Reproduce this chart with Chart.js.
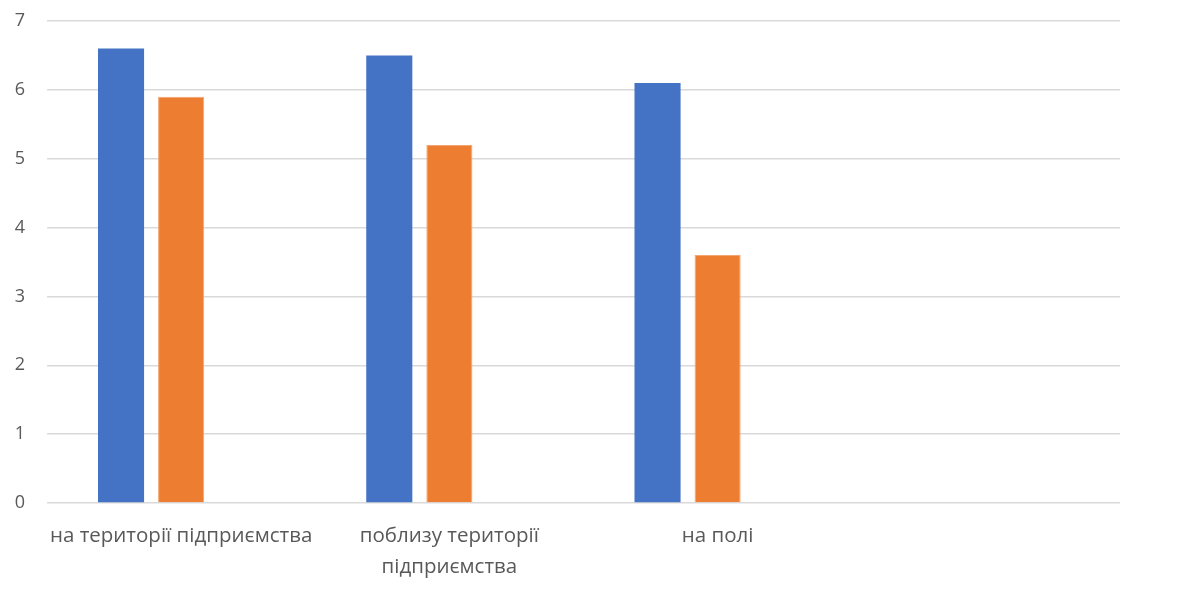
<!DOCTYPE html>
<html>
<head>
<meta charset="utf-8">
<script src="https://cdn.jsdelivr.net/npm/chart.js@4"></script>
<style>
  html, body { margin: 0; padding: 0; background: #fff; }
  #wrap { width: 1195px; height: 590px; position: relative; }
</style>
</head>
<body>
<div id="wrap"><canvas id="chart"></canvas></div>
<script>
// categories (4th slot is empty in the original sheet)
const categories = [
  'на території підприємства',
  ['поблизу території', 'підприємства'],
  'на полі',
  ''
];
const series1 = [6.6, 6.5, 6.1, null];
const series2 = [5.9, 5.2, 3.6, null];
const series3 = [null, null, null, null]; // empty third series keeps Excel spacing
const yTicks = [0, 1, 2, 3, 4, 5, 6, 7];

const FONT = 'Open Sans';
const GREY = '#595959';

new Chart(document.getElementById('chart').getContext('2d'), {
  type: 'bar',
  data: {
    labels: categories,
    datasets: [
      { label: 'Ряд 1', data: series1, backgroundColor: '#4472C4', borderWidth: 0 },
      { label: 'Ряд 2', data: series2, backgroundColor: '#ED7D31', borderColor: '#F4A46E', borderWidth: 1 },
      { label: 'Ряд 3', data: series3, backgroundColor: '#A5A5A5', borderWidth: 0 }
    ]
  },
  options: {
    responsive: true,
    maintainAspectRatio: false,
    animation: false,
    categoryPercentage: 0.672,
    barPercentage: 0.767,
    layout: { padding: { top: 21, right: 75, left: 2, bottom: 0 } },
    plugins: { legend: { display: false }, tooltip: { enabled: false } },
    scales: {
      x: {
        grid: { display: false, drawTicks: false },
        border: { display: false },
        ticks: {
          color: GREY,
          maxRotation: 0,
          autoSkip: false,
          padding: 18,
          font: { size: 20.5, family: FONT, lineHeight: 1.5 }
        },
        afterFit: s => { s.height = 87; }
      },
      y: {
        min: 0,
        max: 7,
        afterBuildTicks: s => { s.ticks = yTicks.map(v => ({ value: v })); },
        grid: { color: '#D9D9D9', lineWidth: 1.5, drawTicks: false },
        border: { display: false },
        ticks: {
          color: GREY,
          padding: 22,
          font: { size: 18, family: FONT }
        },
        afterFit: s => { s.width = 45; s.paddingTop = 0; s.paddingBottom = 0; }
      }
    }
  }
});
</script>
</body>
</html>
